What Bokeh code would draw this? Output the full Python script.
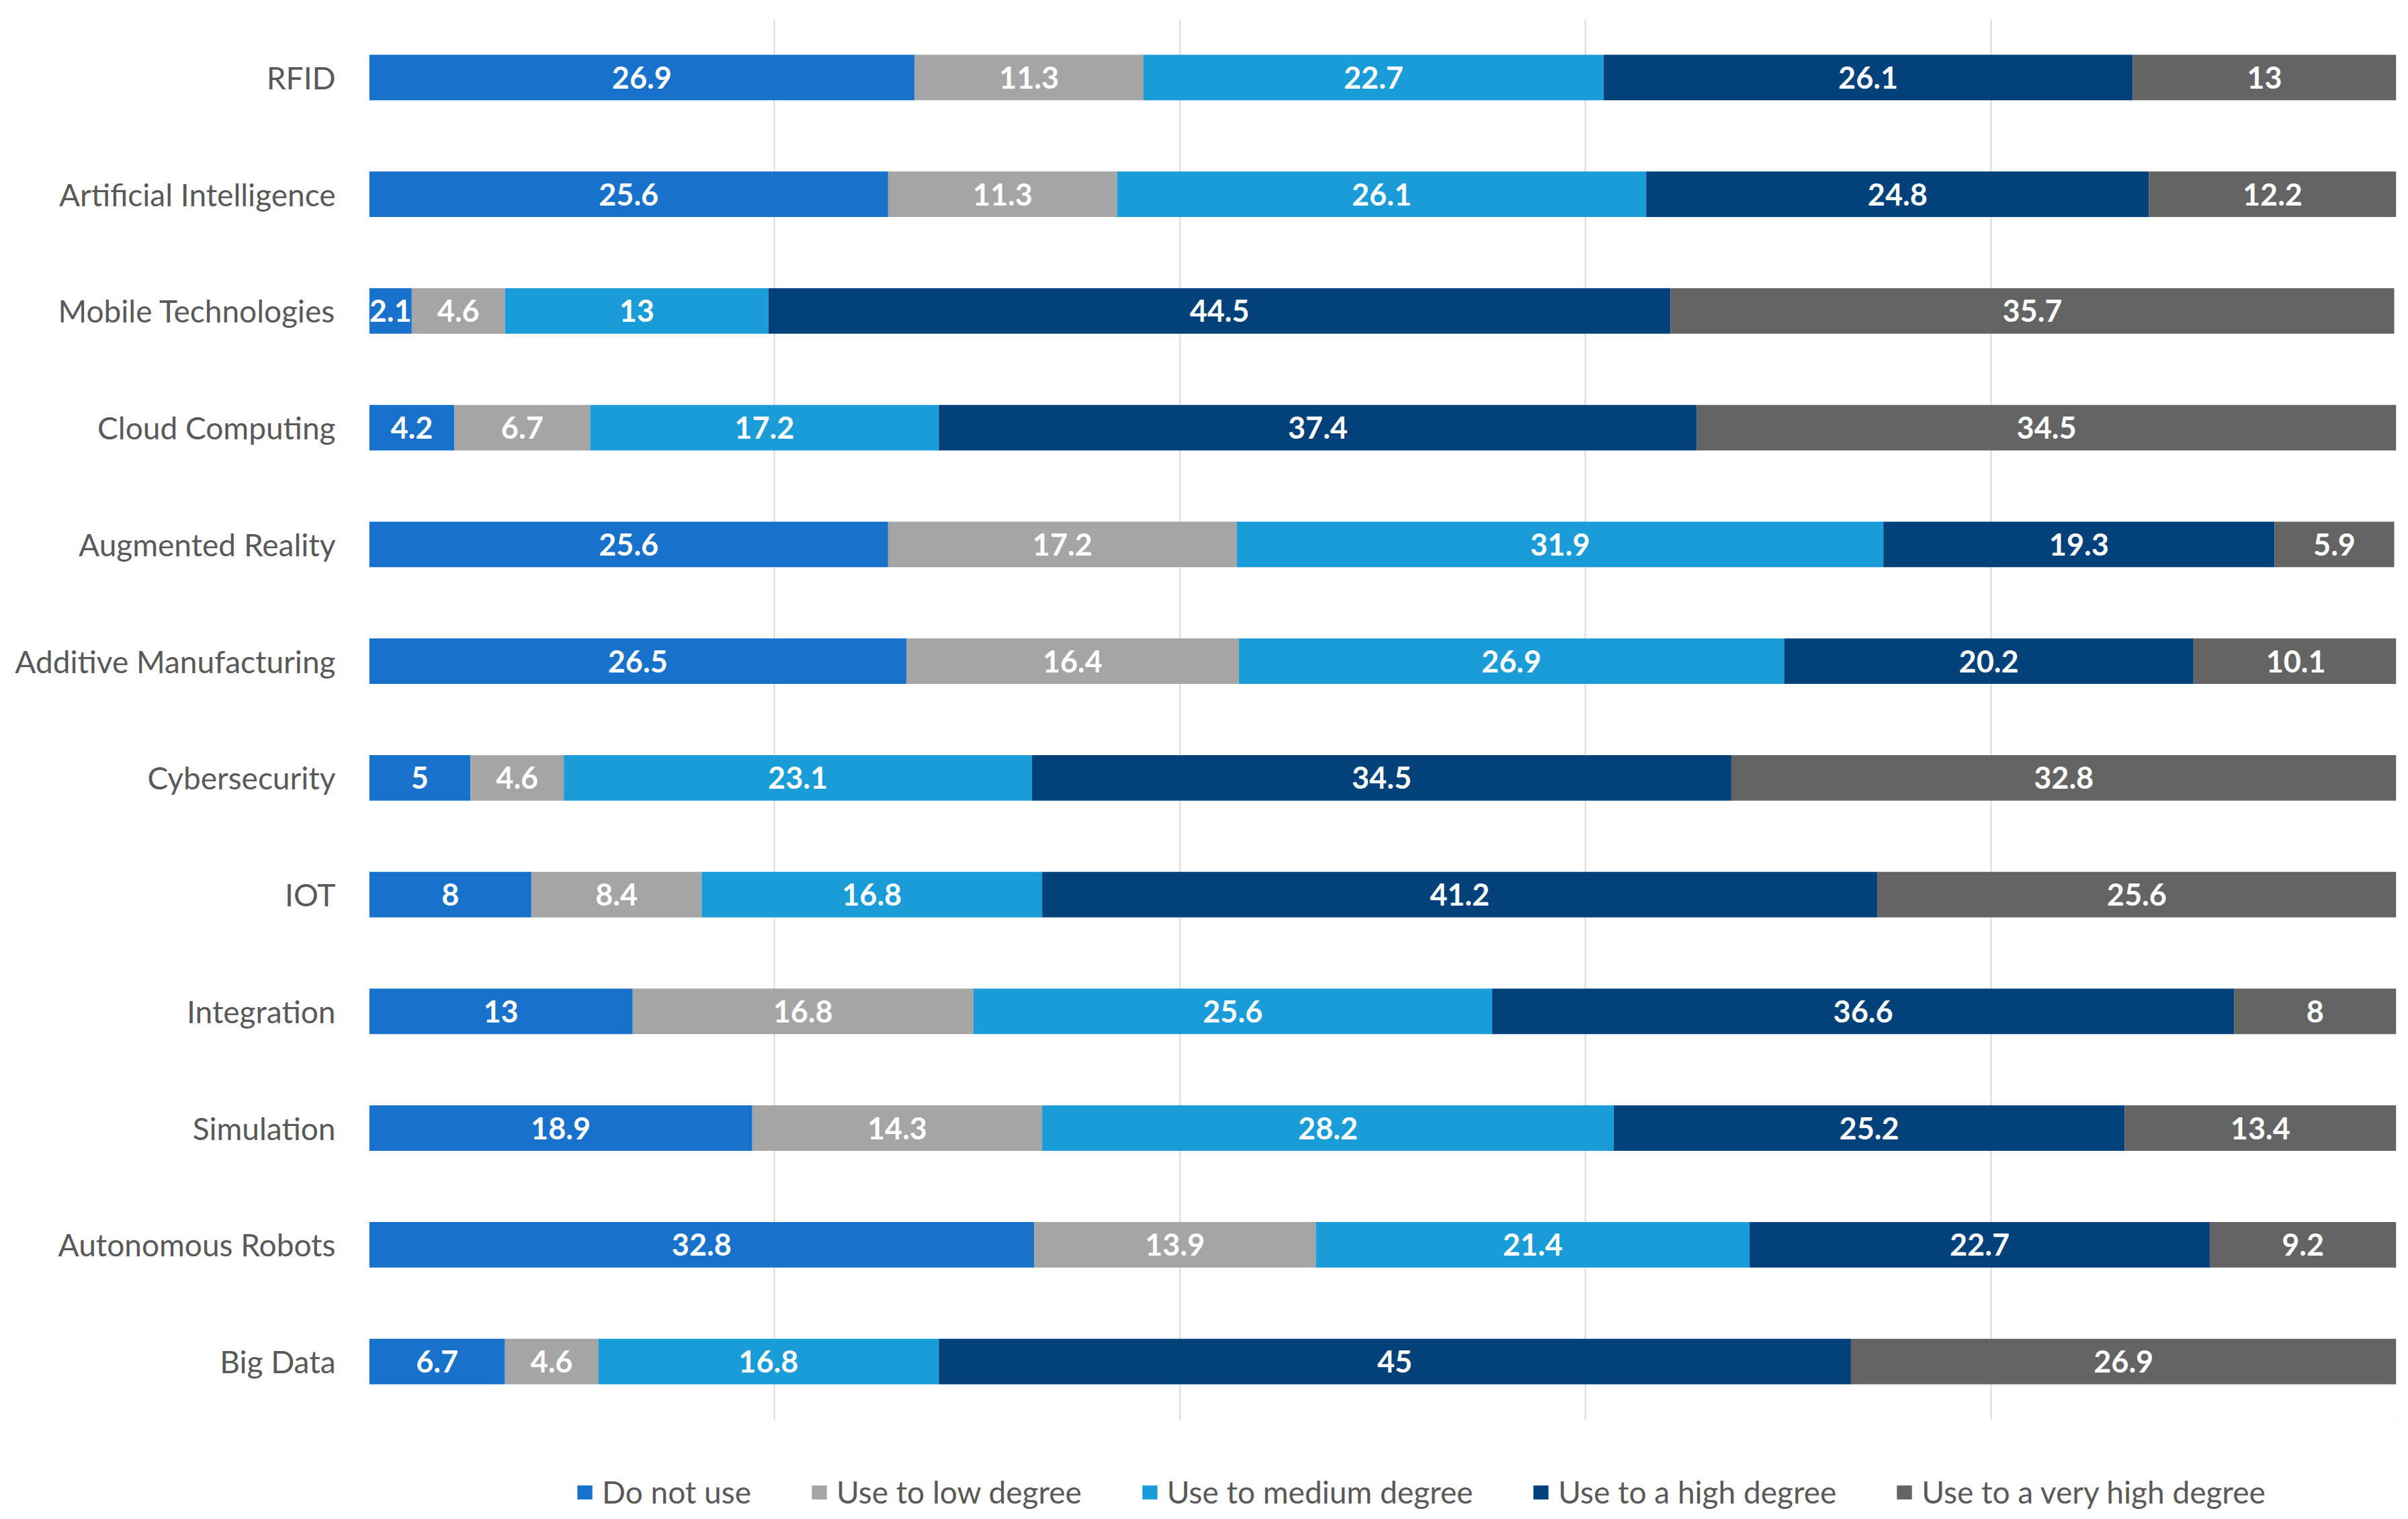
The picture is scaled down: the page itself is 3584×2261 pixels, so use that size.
import numpy as np
from bokeh.plotting import figure
from bokeh.layouts import column
from bokeh.models import ColumnDataSource, FactorRange, Range1d, FixedTicker, Legend, LegendItem
from bokeh.core.properties import value
from bokeh.embed import file_html
from bokeh.resources import INLINE

categories = ["RFID", "Artificial Intelligence", "Mobile Technologies", "Cloud Computing",
              "Augmented Reality", "Additive Manufacturing", "Cybersecurity", "IOT",
              "Integration", "Simulation", "Autonomous Robots", "Big Data"]
series = ["Do not use", "Use to low degree", "Use to medium degree",
          "Use to a high degree", "Use to a very high degree"]
do_not_use = [26.9, 25.6, 2.1, 4.2, 25.6, 26.5, 5, 8, 13, 18.9, 32.8, 6.7]
low_degree = [11.3, 11.3, 4.6, 6.7, 17.2, 16.4, 4.6, 8.4, 16.8, 14.3, 13.9, 4.6]
medium_degree = [22.7, 26.1, 13, 17.2, 31.9, 26.9, 23.1, 16.8, 25.6, 28.2, 21.4, 16.8]
high_degree = [26.1, 24.8, 44.5, 37.4, 19.3, 20.2, 34.5, 41.2, 36.6, 25.2, 22.7, 45]
very_high_degree = [13, 12.2, 35.7, 34.5, 5.9, 10.1, 32.8, 25.6, 8, 13.4, 9.2, 26.9]
x_ticks = [0, 20, 40, 60, 80, 100]

colors = ["#1872CB", "#A5A5A5", "#199CD8", "#02417A", "#646464"]
keys = ["s0", "s1", "s2", "s3", "s4"]
vals = [do_not_use, low_degree, medium_degree, high_degree, very_high_degree]

data = {"cat": categories}
for k, v in zip(keys, vals):
    data[k] = v
source = ColumnDataSource(data)

W = 3570
p = figure(width=W, height=2115, output_backend="svg", toolbar_location=None,
           y_range=FactorRange(factors=list(reversed(categories))),
           x_range=Range1d(0, 100),
           min_border_left=549, min_border_right=4, min_border_top=28, min_border_bottom=2)
p.outline_line_color = None

renderers = p.hbar_stack(keys, y="cat", height=0.39, color=colors, source=source, line_color=None)

# labels
arr = np.array(vals)
cum = np.cumsum(arr, axis=0)
start = cum - arr
lx, ly, lt = [], [], []
for i in range(len(keys)):
    for j, c in enumerate(categories):
        lx.append(float(start[i, j] + arr[i, j] / 2))
        ly.append(c)
        lt.append("{:g}".format(arr[i, j]))
lsrc = ColumnDataSource(dict(x=lx, y=ly, t=lt))
p.text(x="x", y="y", text="t", source=lsrc, text_align="center", text_baseline="middle",
       text_color="white", text_font=value("Lato"), text_font_style="bold",
       text_font_size="45px")

p.xaxis.visible = False
p.xgrid.ticker = FixedTicker(ticks=x_ticks)
p.xgrid.grid_line_color = "#D9D9D9"
p.xgrid.grid_line_width = 2
p.ygrid.grid_line_color = None

p.yaxis.axis_line_color = None
p.yaxis.major_tick_line_color = None
p.yaxis.minor_tick_line_color = None
p.yaxis.major_label_text_font = "Lato"
p.yaxis.major_label_text_font_size = "46px"
p.yaxis.major_label_text_color = "#595959"
p.yaxis.major_label_standoff = 44

# legend in its own strip below the chart (swatch bars sit outside its visible range)
lg = figure(width=W, height=140, output_backend="svg", toolbar_location=None,
            x_range=Range1d(0, 1), y_range=Range1d(0, 1),
            min_border_left=549, min_border_right=4, min_border_top=0, min_border_bottom=0)
lg.outline_line_color = None
lg.axis.visible = False
lg.grid.visible = False
dummies = [lg.hbar(y=[5], left=[5], right=[6], height=0.4, color=c, line_color=None) for c in colors]
items = [LegendItem(label=s, renderers=[r]) for s, r in zip(series, dummies)]
legend = Legend(items=items, orientation="horizontal", location=(307, 7),
                glyph_width=28, glyph_height=26, label_standoff=12, spacing=87,
                label_text_font="Lato", label_text_font_size="46px",
                label_text_color="#595959", border_line_color=None,
                background_fill_alpha=0, padding=0, margin=0)
lg.add_layout(legend, "center")

open("out.html", "w").write(file_html(column(p, lg, spacing=0), INLINE))
